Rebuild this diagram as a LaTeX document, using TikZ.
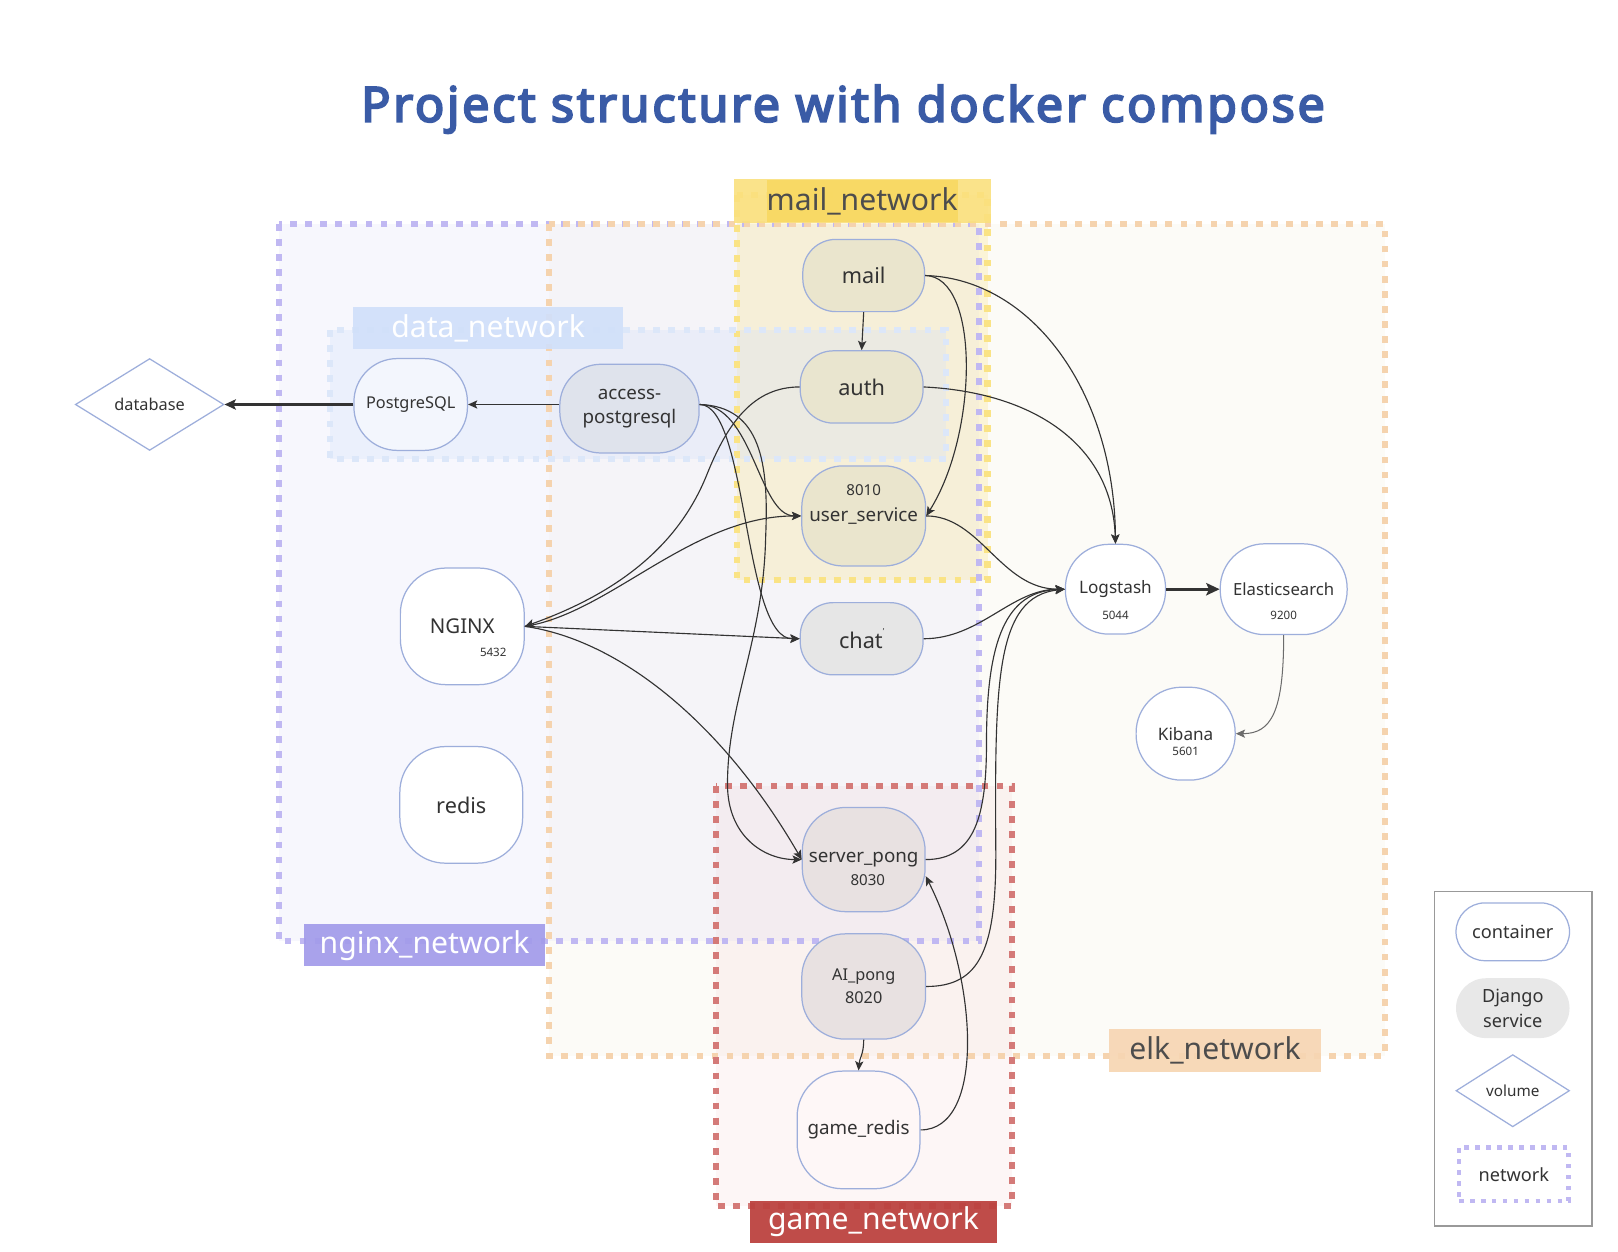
\documentclass[tikz,border=0pt]{standalone}
\usepackage{fontspec}
\setmainfont{Noto Sans}
\newfontfamily\titlefont{Noto Sans}[AutoFakeBold=4, LetterSpace=5.5]
\usetikzlibrary{arrows.meta,shapes.geometric}
\definecolor{nodeb}{HTML}{9DAEDB}
\definecolor{txt}{HTML}{333333}
\definecolor{edgec}{HTML}{333333}
\definecolor{titlec}{HTML}{3A5BA6}
\definecolor{ngfill}{HTML}{F7F7FD}
\definecolor{elkfill}{HTML}{FCFBF7}
\definecolor{ovfill}{HTML}{F5F4F8}
\definecolor{mailc}{HTML}{F9E27A}
\definecolor{datac}{HTML}{D2E0FA}
\definecolor{gamec}{HTML}{E07070}
\definecolor{ngb}{HTML}{C0B8F2}
\definecolor{elkb}{HTML}{F5D3AE}
\definecolor{mailb}{HTML}{FAE385}
\definecolor{datab}{HTML}{DCE7F9}
\definecolor{gameb}{HTML}{D47A78}
\definecolor{ngl}{HTML}{A29BEA}
\definecolor{elkl}{HTML}{F7D6B3}
\definecolor{maill}{HTML}{F8D962}
\definecolor{maillo}{HTML}{FAE07E}
\definecolor{datal}{HTML}{D1E0FA}
\definecolor{gamel}{HTML}{BC4340}
\definecolor{labtxt}{HTML}{4D4D4D}
\definecolor{mailfill}{HTML}{EAE5CD}
\definecolor{authfill}{HTML}{E9E5CF}
\definecolor{apfill}{HTML}{DFE3EC}
\definecolor{pgfill}{HTML}{F3F6FD}
\definecolor{chatfill}{HTML}{E6E6E6}
\definecolor{gamefill}{HTML}{E8E1E1}
\definecolor{grfill}{HTML}{FEF7F7}
\definecolor{djfill}{HTML}{E8E8E8}
\definecolor{legb}{HTML}{999999}
\begin{document}
\begin{tikzpicture}[x=0.5pt,y=-0.5pt,
  box/.style={draw=nodeb, line width=0.6pt, text=txt, inner sep=0pt, align=center},
  dia/.style={diamond, draw=nodeb, line width=0.6pt, fill=white, text=txt, inner sep=0pt},
  num/.style={text=txt, inner sep=0pt},
  net/.style={line width=3pt, dash pattern=on 3.3pt off 4pt},
  lab/.style={inner sep=0pt, minimum height=20.5pt, font=\fontsize{14.6}{17}\selectfont},
  edge/.style={draw=edgec, line width=0.55pt, -{Stealth[length=4.5pt,width=4pt,inset=1pt]}},
  thickedge/.style={draw=edgec, line width=1pt, -{Stealth[length=5.5pt,width=5pt,inset=1.2pt]}},
  bigedge/.style={draw=edgec, line width=1.6pt, -{Stealth[length=6.5pt,width=6pt,inset=1.4pt]}},
  greyedge/.style={draw=gray!85!black, line width=0.5pt, -{Stealth[length=4.5pt,width=4pt,inset=1pt]}},
  fL/.style={font=\fontsize{10.5}{12.6}\selectfont},
  fM/.style={font=\fontsize{9.1}{12}\selectfont},
  fS/.style={font=\fontsize{7.9}{9.5}\selectfont},
  fE/.style={font=\fontsize{8.3}{10}\selectfont},
  fN/.style={font=\fontsize{7.3}{8.8}\selectfont},
  fT/.style={font=\fontsize{5.6}{6.7}\selectfont},
  fG/.style={font=\fontsize{8.8}{12}\selectfont}
]
\useasboundingbox[fill=white] (0,0) rectangle (1568,1213);

% title
\node[anchor=base, text=titlec, font=\titlefont\bfseries\fontsize{23.5}{28}\selectfont] (title) at (817,118) {Project structure with docker compose};

% network fills
\fill[elkfill] (532,217) rectangle (1342,1023);
\fill[ngfill] (270,217) rectangle (949,912);
\fill[ovfill] (532,217) rectangle (949,912);
\fill[mailc, opacity=0.25] (714,189) rectangle (957,562);
\fill[datac, opacity=0.3] (320,320) rectangle (917,445);
\fill[gamec, opacity=0.058] (694,762) rectangle (981,1169);

% network borders
\draw[net, ngb] (270,217) rectangle (949,912);
\draw[net, elkb] (532,217) rectangle (1342,1023);
\draw[net, mailb] (714,189) rectangle (957,562);
\draw[net, datab] (320,320) rectangle (917,445);
\draw[net, gameb] (694,762) rectangle (981,1169);

% network labels
\fill[maillo, opacity=0.9] (711,173) rectangle (960,216);
\node[lab, fill=maill, fill opacity=0.9, text opacity=1, text=labtxt, minimum width=92.5pt] (mailnet) at (835.5,195) {mail\_network};
\node[lab, fill=datal, fill opacity=0.92, text opacity=1, text=white, minimum width=131pt] (datanet) at (473,318) {data\_network};
\node[lab, fill=ngl, fill opacity=0.92, text opacity=1, text=white, minimum width=116.5pt] (nginxnet) at (411.5,916) {nginx\_network};
\node[lab, fill=elkl, fill opacity=0.92, text opacity=1, text=labtxt, minimum width=102.5pt] (elknet) at (1177.5,1018) {elk\_network};
\node[lab, fill=gamel, fill opacity=0.95, text opacity=1, text=white, minimum width=119.5pt] (gamenet) at (846.5,1184) {game\_network};

% nodes
\node[dia, fS, minimum width=72pt, minimum height=44.5pt] (db) at (145,392) {database};
\node[box, fS, fill=pgfill, minimum width=55pt, minimum height=44.5pt, rounded corners=21pt] (pg) at (398,392) {PostgreSQL};
\node[box, fM, fill=apfill, minimum width=67.5pt, minimum height=43pt, rounded corners=20pt] (ap) at (610,396) {access-\\postgresql};
\node[box, fL, fill=mailfill, minimum width=59pt, minimum height=35pt, rounded corners=16pt] (mail) at (837,267) {mail};
\node[box, fL, fill=authfill, minimum width=59.5pt, minimum height=35pt, rounded corners=16pt] (auth) at (835,375) {auth};
\node[box, fM, fill=mailfill, minimum width=60pt, minimum height=48.5pt, rounded corners=20pt] (us) at (837,500) {user\_service};
\node[num, fN] (usn) at (837,475) {8010};
\node[box, font=\fontsize{9.9}{12}\selectfont, fill=white, minimum width=60pt, minimum height=56.5pt, rounded corners=22pt] (nginx) at (448,607) {NGINX};
\node[num, fT] (nginxn) at (478,632) {5432};
\node[box, fL, fill=chatfill, minimum width=59.5pt, minimum height=35pt, rounded corners=16pt] (chat) at (835,619) {chat\raisebox{0.62em}{\fontsize{4}{4}\selectfont'}};
\node[box, fM, fill=gamefill, minimum width=59.5pt, minimum height=50.5pt, rounded corners=21pt] (sp) at (837,833) {\raisebox{-1.5pt}{server\_pong}};
\node[num, fN] (spn) at (841,853) {8030};
\node[box, fS, fill=gamefill, minimum width=60pt, minimum height=51pt, rounded corners=21pt] (ai) at (837,956) {AI\_pong\\[1.8pt]8020};
\node[box, fM, fill=grfill, minimum width=59.5pt, minimum height=57pt, rounded corners=22pt] (gr) at (832,1095) {game\_redis};
\node[box, fL, fill=white, minimum width=59.5pt, minimum height=56.5pt, rounded corners=22pt] (redis) at (447,780) {redis};
\node[box, fE, fill=white, minimum width=48.5pt, minimum height=43.5pt, rounded corners=21pt] (ls) at (1081,571) {\raisebox{-1pt}{Logstash}};
\node[num, fT] (lsn) at (1081,596) {5044};
\node[box, font=\fontsize{8.1}{10}\selectfont, fill=white, minimum width=61.5pt, minimum height=44pt, rounded corners=21.5pt] (es) at (1244,571) {Elasticsearch};
\node[num, fT] (esn) at (1244,596) {9200};
\node[box, fE, fill=white, minimum width=48pt, minimum height=45pt, rounded corners=22pt] (kb) at (1149,711) {Kibana};
\node[num, fT] (kbn) at (1149,728) {5601};

% legend
\node[draw=legb, line width=0.8pt, fill=white, minimum width=76.5pt, minimum height=162pt, inner sep=0pt] (legend) at (1466.5,1026) {};
\node[box, fG, fill=white, minimum width=55pt, minimum height=28pt, rounded corners=14pt] (lc) at (1466,903) {container};
\node[box, fG, draw=none, fill=djfill, minimum width=55pt, minimum height=29pt, rounded corners=14.5pt] (ld) at (1466,977) {Django\\service};
\node[dia, font=\fontsize{7.4}{9}\selectfont, minimum width=55pt, minimum height=35pt] (lv) at (1466,1057) {volume};
\node[draw=ngb, line width=2.2pt, dash pattern=on 2.2pt off 3.1pt, fill=white, text=txt, fG, minimum width=53pt, minimum height=26pt, inner sep=0pt] (ln) at (1467,1138) {network};

% edges
\draw[thickedge] (pg.west) -- (db.east);
\draw[edge] (ap.west |- pg.east) -- (pg.east);
\draw[edge] (mail.south) -- (auth.north);
\draw[edge] (mail.east) .. controls (950,268) and (948,420) .. (us.east);
\draw[edge] (mail.east) .. controls (1000,270) and (1080,380) .. (ls.north);
\draw[edge] (auth.east) .. controls (1000,380) and (1078,430) .. (ls.north);
\draw[edge] (auth.west) .. controls (730,375) and (705,410) .. (685,460) .. controls (655,535) and (590,578) .. (nginx.east);
\draw[edge] (nginx.east) .. controls (590,595) and (670,500) .. (us.west);
\draw[edge] (nginx.east) -- (chat.west);
\draw[edge] (nginx.east) .. controls (600,620) and (700,700) .. (sp.west);
\draw[edge] (ap.east |- pg.east) .. controls (730,392) and (735,500) .. (us.west);
\draw[edge] (ap.east |- pg.east) .. controls (725,392) and (720,620) .. (chat.west);
\draw[edge] (ap.east |- pg.east) .. controls (738,394) and (745,450) .. (742,520) .. controls (740,620) and (705,680) .. (705,760) .. controls (705,810) and (740,833) .. (sp.west);
\draw[edge] (us.east) .. controls (950,500) and (970,571) .. (ls.west);
\draw[edge] (chat.east) .. controls (950,619) and (980,571) .. (ls.west);
\draw[edge] (sp.east) .. controls (945,833) and (956,790) .. (956,720) .. controls (956,620) and (975,573) .. (ls.west);
\draw[edge] (ai.east) .. controls (950,956) and (966,920) .. (965,820) .. controls (964,660) and (965,578) .. (ls.west);
\draw[edge] (gr.east) .. controls (955,1095) and (948,950) .. (sp.-15);
\draw[edge] (ai.south) .. controls (837,1022) and (833,1025) .. (gr.north);
\draw[bigedge] (ls.east) -- (es.west);
\draw[greyedge] (es.south) .. controls (1244,690) and (1232,711) .. (kb.east);
\end{tikzpicture}
\end{document}
